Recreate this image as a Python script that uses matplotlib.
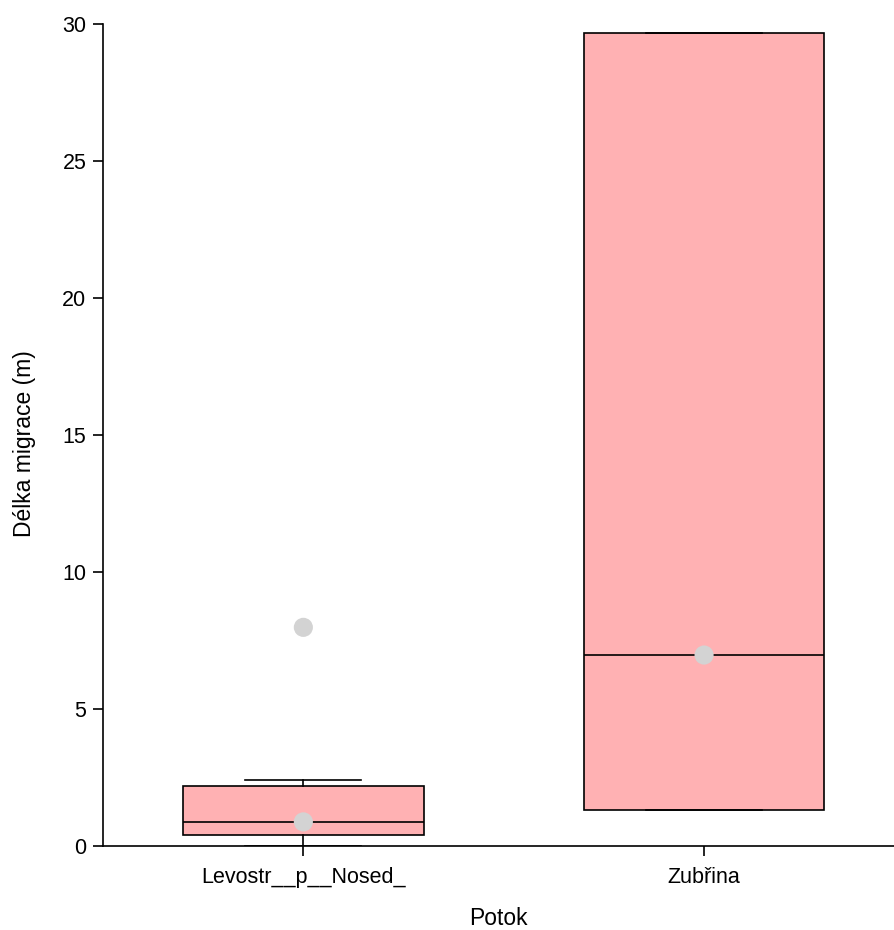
import matplotlib
matplotlib.use("Agg")
import matplotlib.pyplot as plt

plt.rcParams['font.family'] = ['Liberation Sans', 'DejaVu Sans']

# box summaries per stream
potok = ['Levostr__p__Nosed_', 'Zubřina']
q1 = [0.40, 1.31]
median = [0.88, 6.97]
q3 = [2.19, 29.67]
whisker_lo = [0.0, 1.31]
whisker_hi = [2.41, 29.67]

# individual points drawn over the boxes
point_group = [0, 0, 1]
point_value = [7.98, 0.88, 6.97]

stats = []
for i, name in enumerate(potok):
    stats.append(dict(label=name, q1=q1[i], med=median[i], q3=q3[i],
                      whislo=whisker_lo[i], whishi=whisker_hi[i], fliers=[]))

fig = plt.figure(figsize=(8.94, 9.30), dpi=100)
ax = fig.add_axes([103 / 894, 84 / 930, 791 / 894, 822 / 930])

ax.bxp(stats, positions=range(len(potok)), widths=0.6, capwidths=0.29,
       patch_artist=True, showfliers=False,
       boxprops=dict(facecolor='#FFB1B3', edgecolor='black', linewidth=1.2),
       medianprops=dict(color='black', linewidth=1.2),
       whiskerprops=dict(color='black', linewidth=1.2),
       capprops=dict(color='black', linewidth=1.2))

ax.scatter(point_group, point_value, s=190, color='#D3D3D3', zorder=5,
           edgecolors='none')

ax.set_xlim(-0.5, 1.474)
ax.set_ylim(0, 30)
ax.set_yticks([0, 5, 10, 15, 20, 25, 30])
ax.set_xticks(range(len(potok)))
ax.set_xticklabels(potok)
ax.spines['top'].set_visible(False)
ax.spines['right'].set_visible(False)
ax.spines['left'].set_linewidth(1.2)
ax.spines['bottom'].set_linewidth(1.2)
ax.tick_params(axis='both', labelsize=15.5, length=7, width=1.2, pad=5)
ax.tick_params(axis='x', pad=8)

ax.set_xlabel('Potok', fontsize=16.5)
ax.set_ylabel('Délka migrace (m)', fontsize=16.5)
ax.xaxis.label.set_va('center')
ax.yaxis.label.set_va('center')
ax.xaxis.set_label_coords(0.5, -72 / 822)
ax.yaxis.set_label_coords(-78 / 791, 0.49)

fig.savefig('out.png', dpi=100)
